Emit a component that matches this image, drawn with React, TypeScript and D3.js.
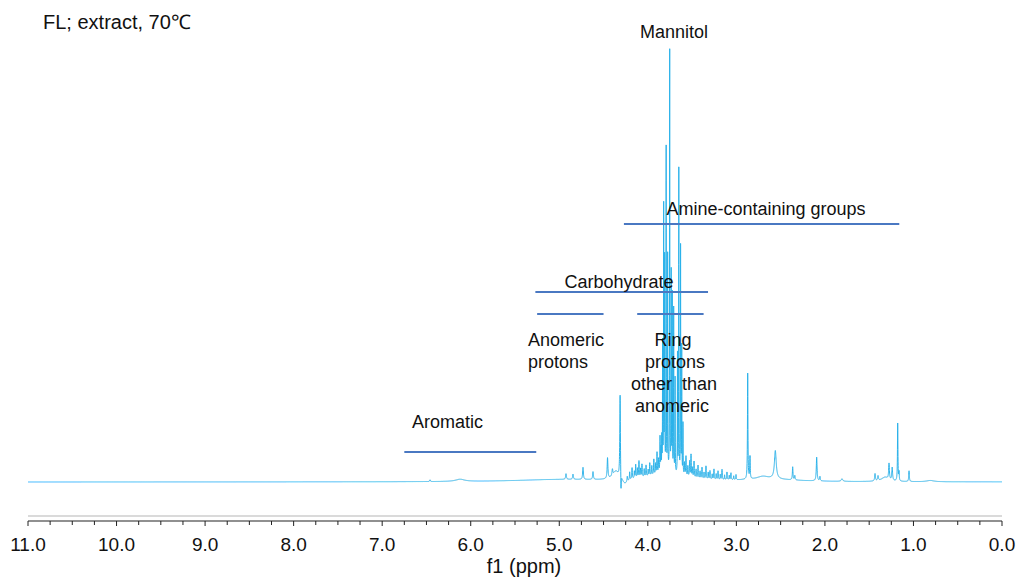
import React from "react";
import * as d3 from "d3";

// 1H NMR spectrum of the FL extract (70 °C), built from its resolved lines.
// Each line: [chemical shift (ppm), intensity (% of the tallest line), half width (ppm)]
type Line = [number, number, number];

// Mannitol / ring-proton cluster, 3.6–3.85 ppm
const clusterLines: Line[] = [
  [3.842, 8, 0.0016],
  [3.833, 30, 0.0016],
  [3.821, 62, 0.0016],
  [3.81, 52, 0.0016],
  [3.793, 76, 0.0016],
  [3.776, 50, 0.0016],
  [3.753, 99, 0.0016],
  [3.736, 46, 0.0016],
  [3.724, 41, 0.0016],
  [3.708, 38, 0.0016],
  [3.692, 22, 0.0016],
  [3.665, 28, 0.0016],
  [3.65, 75, 0.0016],
  [3.63, 56, 0.0016],
  [3.617, 30, 0.0016],
  [3.603, 12, 0.0016],
];

// Minor carbohydrate multiplets flanking the cluster
const ringLines: Line[] = [
  [4.232, 1.2, 0.004], [4.205, 1.8, 0.003], [4.178, 2.6, 0.003], [4.152, 1.6, 0.003],
  [4.137, 3.1, 0.003], [4.118, 2.2, 0.003], [4.1, 3.8, 0.003], [4.082, 2.0, 0.003],
  [4.066, 3.0, 0.003], [4.041, 1.8, 0.003], [4.02, 2.6, 0.003], [3.996, 1.5, 0.003],
  [3.978, 3.0, 0.003], [3.955, 2.2, 0.003], [3.932, 3.6, 0.003], [3.912, 2.5, 0.003],
  [3.896, 5.0, 0.003], [3.878, 3.4, 0.003], [3.862, 8.5, 0.0025], [3.851, 5.5, 0.0025],
  [3.585, 3.0, 0.003], [3.569, 4.6, 0.003], [3.548, 2.4, 0.003], [3.528, 3.6, 0.003],
  [3.512, 5.2, 0.003], [3.496, 2.2, 0.003], [3.478, 3.8, 0.003], [3.455, 2.0, 0.003],
  [3.433, 3.0, 0.003], [3.41, 1.7, 0.003], [3.388, 2.6, 0.003], [3.365, 1.5, 0.003],
  [3.343, 3.0, 0.003], [3.318, 1.6, 0.003], [3.298, 2.0, 0.003], [3.273, 1.2, 0.003],
  [3.253, 2.4, 0.003], [3.228, 1.3, 0.003], [3.207, 2.0, 0.003], [3.182, 1.2, 0.003],
  [3.162, 2.4, 0.003], [3.133, 1.1, 0.003], [3.106, 1.8, 0.003], [3.08, 1.0, 0.003],
  [3.061, 1.6, 0.003], [3.03, 0.9, 0.003], [3.004, 1.2, 0.003],
];

// Anomeric region and the residual water line (with its dispersive dip)
const anomericLines: Line[] = [
  [6.46, 0.4, 0.004], [6.12, 0.5, 0.06],
  [4.924, 1.3, 0.005], [4.845, 1.2, 0.005], [4.732, 2.8, 0.005], [4.619, 1.8, 0.005],
  [4.455, 4.8, 0.005], [4.4, 1.5, 0.006], [4.36, 2, 0.04],
  [4.313, 19.5, 0.004], [4.303, -4.8, 0.003], [4.26, -1.3, 0.04],
];

// Aliphatic / amine region
const aliphaticLines: Line[] = [
  [2.872, 24.5, 0.003], [2.846, 5.2, 0.003], [2.7, 0.7, 0.08],
  [2.56, 6.5, 0.012], [2.364, 3, 0.004], [2.34, 1, 0.004],
  [2.093, 5.5, 0.005], [2.056, 1, 0.004], [1.807, 0.6, 0.01],
  [1.434, 1.7, 0.005], [1.4, 1.1, 0.005], [1.32, 1, 0.05],
  [1.276, 3.7, 0.005], [1.24, 3, 0.005], [1.178, 13.6, 0.003],
  [1.163, 2, 0.003], [1.05, 2.5, 0.004], [0.81, 0.3, 0.05],
];

// Broad underlying humps
const broadLines: Line[] = [
  [5.0, 0.5, 0.6],
  [3.8, 1.6, 0.3],
  [2.6, 0.5, 0.35],
];

const allLines: Line[] = [
  ...clusterLines, ...ringLines, ...anomericLines, ...aliphaticLines, ...broadLines,
];

const axisTicks = d3.range(0, 11.0001, 0.25).map((v) => +v.toFixed(2));
const labelTicks = d3.range(0, 11.0001, 1).map((v) => +v.toFixed(1));

// Region annotations: [from ppm, to ppm]
const regionBars: { name: string; range: [number, number]; y: number }[] = [
  { name: "amine", range: [4.27, 1.16], y: 224 },
  { name: "carbohydrate", range: [5.27, 3.32], y: 292 },
  { name: "anomeric", range: [5.25, 4.5], y: 314 },
  { name: "ring", range: [4.12, 3.37], y: 314 },
  { name: "aromatic", range: [6.75, 5.26], y: 452 },
];

const W = 1020;
const H = 577;
const FONT = "'Liberation Sans', Arial, Helvetica, sans-serif";

function lineShape(ppm: number): number {
  let s = 0;
  for (const [c, h, w] of allLines) {
    const d = ppm - c;
    s += (h * w * w) / (d * d + w * w);
  }
  return s;
}

export default function App() {
  const x = d3.scaleLinear().domain([11, 0]).range([28, 1002]);
  const y = d3.scaleLinear().domain([0, 100]).range([482, 50]);

  const samples = d3.range(11, -0.0005, -0.0008).map((p) => [p, lineShape(p)] as [number, number]);
  const path = d3
    .line<[number, number]>()
    .x((d) => x(d[0]))
    .y((d) => y(d[1]))(samples) as string;

  const textStyle = { fontFamily: FONT, fill: "#111" };

  return (
    <div style={{ position: "absolute", left: 0, top: 0 }}>
      <svg width={W} height={H} viewBox={`0 0 ${W} ${H}`} style={{ display: "block", background: "#fff" }}>
        <text x={43} y={29} fontSize={20} {...textStyle}>FL; extract, 70℃</text>

        <path d={path} fill="none" stroke="#2bb2ea" strokeWidth={1} strokeLinejoin="round" />

        {regionBars.map((b) => (
          <line key={b.name} x1={x(b.range[0])} x2={x(b.range[1])} y1={b.y} y2={b.y}
            stroke="#4a78c2" strokeWidth={2} />
        ))}

        <text x={674} y={38} fontSize={18} textAnchor="middle" {...textStyle}>Mannitol</text>
        <text x={766} y={215} fontSize={18} textAnchor="middle" {...textStyle}>Amine-containing groups</text>
        <text x={619} y={288} fontSize={18} textAnchor="middle" {...textStyle}>Carbohydrate</text>
        <text x={528} y={346} fontSize={18} {...textStyle}>Anomeric</text>
        <text x={528} y={368} fontSize={18} {...textStyle}>protons</text>
        <text x={673} y={346} fontSize={18} textAnchor="middle" {...textStyle}>Ring</text>
        <text x={675} y={368} fontSize={18} textAnchor="middle" {...textStyle}>protons</text>
        <text x={674} y={390} fontSize={18} textAnchor="middle" {...textStyle} style={{ whiteSpace: "pre" }}>other  than</text>
        <text x={672} y={412} fontSize={18} textAnchor="middle" {...textStyle}>anomeric</text>
        <text x={412} y={428} fontSize={18} {...textStyle}>Aromatic</text>

        {/* axis */}
        <line x1={x(11)} x2={x(0)} y1={516} y2={516} stroke="#b5b5b5" strokeWidth={1.2} />
        <line x1={x(11)} x2={x(0)} y1={521} y2={521} stroke="#222" strokeWidth={1.2} />
        {axisTicks.map((t) => (
          <line key={t} x1={x(t)} x2={x(t)} y1={521} y2={Number.isInteger(t) ? 526 : 525}
            stroke="#222" strokeWidth={1} />
        ))}
        {labelTicks.map((t) => (
          <text key={t} x={x(t)} y={551} fontSize={19} textAnchor="middle" {...textStyle}>
            {d3.format(".1f")(t)}
          </text>
        ))}
        <text x={524} y={573} fontSize={20} textAnchor="middle" {...textStyle}>f1 (ppm)</text>
      </svg>
    </div>
  );
}
